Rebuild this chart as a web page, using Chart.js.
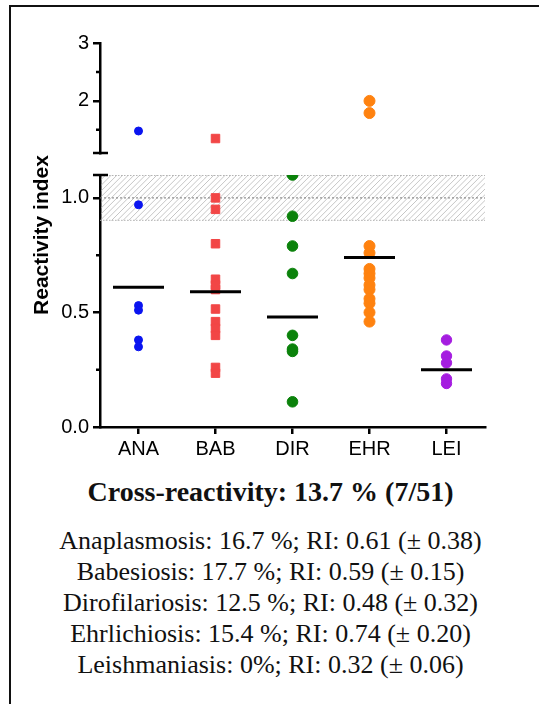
<!DOCTYPE html>
<html>
<head>
<meta charset="utf-8">
<script src="https://cdn.jsdelivr.net/npm/chart.js@4.4.1/dist/chart.umd.min.js"></script>
<style>
  html, body { margin: 0; padding: 0; background: #fff; }
  body { width: 539px; height: 704px; overflow: hidden; position: relative; }
  #frame { position: absolute; left: 9px; top: 5px; width: 620px; height: 800px;
           border-top: 2.5px solid #111; border-left: 2.5px solid #111; }
  #chartBox { position: absolute; left: 0; top: 0; width: 539px; height: 470px; }
  .txt { position: absolute; left: 0; width: 541px; text-align: center;
         font-family: "Liberation Serif", "Times New Roman", serif; color: #111; }
  #title { top: 475px; font-size: 28px; font-weight: bold; line-height: 34px; }
  #stats { top: 525px; font-size: 26px; line-height: 31px; }
</style>
</head>
<body>
<div id="frame"></div>
<div id="chartBox"><canvas id="canvas"></canvas></div>
<div id="title" class="txt"></div>
<div id="stats" class="txt"></div>
<script>
// values (reactivity index per dog)
var categories = ['ANA', 'BAB', 'DIR', 'EHR', 'LEI'];
var anaValues = [1.48, 0.97, 0.53, 0.51, 0.38, 0.35];
var babValues = [1.35, 1.00, 0.95, 0.80, 0.645, 0.62, 0.60, 0.515, 0.46, 0.43, 0.40, 0.26, 0.235];
var dirValues = [1.10, 0.92, 0.79, 0.67, 0.40, 0.34, 0.33, 0.11];
var ehrValues = [2.00, 1.79, 0.79, 0.76, 0.69, 0.67, 0.65, 0.62, 0.60, 0.56, 0.54, 0.50, 0.46];
var leiValues = [0.38, 0.31, 0.28, 0.21, 0.19];
var meanValues = [0.61, 0.59, 0.48, 0.74, 0.25];

var lowerTicks = [0, 0.5, 1.0];
var lowerMinorTicks = [0.25, 0.75];
var upperTicks = [2, 3];
var upperMinorTicks = [1.5, 2.5];
var breakValue = 1.1;
var topValue = 3;
var bandLow = 0.9, bandHigh = 1.1, cutOff = 1.0;

var titleText = 'Cross-reactivity: 13.7 % (7/51)';
var summaryLines = [
    'Anaplasmosis: 16.7 %; RI: 0.61 (\u00b1 0.38)',
    'Babesiosis: 17.7 %; RI: 0.59 (\u00b1 0.15)',
    'Dirofilariosis: 12.5 %; RI: 0.48 (\u00b1 0.32)',
    'Ehrlichiosis: 15.4 %; RI: 0.74 (\u00b1 0.20)',
    'Leishmaniasis: 0%; RI: 0.32 (\u00b1 0.06)'
];

document.getElementById('title').textContent = titleText;
document.getElementById('stats').innerHTML = summaryLines.join('<br>');

var groups = [
    { values: anaValues, color: '#0a14f0', style: 'circle', radius: 4 },
    { values: babValues, color: '#f24646', style: 'rect', radius: 6 },
    { values: dirValues, color: '#0b820b', style: 'circle', radius: 5.3 },
    { values: ehrValues, color: '#ff820f', style: 'circle', radius: 5.5 },
    { values: leiValues, color: '#a51de0', style: 'circle', radius: 5.2 }
];

var datasets = [{
    label: 'mean',
    yAxisID: 'yLow',
    data: categories.map(function (c, i) { return { x: c, y: meanValues[i] }; }),
    pointStyle: 'line',
    pointRadius: 25.5,
    pointBorderWidth: 3,
    pointBorderColor: '#000',
    pointBackgroundColor: '#000'
}];

groups.forEach(function (g, i) {
    var low = g.values.filter(function (v) { return v <= breakValue; });
    var up = g.values.filter(function (v) { return v > breakValue; });
    [['yLow', low], ['yUp', up]].forEach(function (p) {
        datasets.push({
            label: categories[i],
            yAxisID: p[0],
            data: p[1].map(function (v) { return { x: categories[i], y: v }; }),
            pointStyle: g.style,
            pointRadius: g.radius,
            pointBorderWidth: 1,
            pointBackgroundColor: g.color,
            pointBorderColor: g.color
        });
    });
});

var tickFont = { family: 'Liberation Sans', size: 20 };

function yAxis(extra) {
    var base = {
        type: 'linear',
        position: 'left',
        stack: 'ri',
        border: { display: true, color: '#000', width: 2.5 },
        grid: { display: true, drawOnChartArea: false, drawTicks: true, tickLength: 7, color: '#000', lineWidth: 2.5 },
        ticks: { color: '#000', font: tickFont, padding: 4 },
        afterFit: function (s) { s.width = 90; }
    };
    return Object.assign(base, extra);
}

var decorations = {
    id: 'decorations',
    beforeDatasetsDraw: function (chart) {
        var ctx = chart.ctx, a = chart.chartArea, low = chart.scales.yLow;
        var yTop = low.getPixelForValue(bandHigh);
        var yBot = low.getPixelForValue(bandLow);
        var yMid = low.getPixelForValue(cutOff);
        var h = yBot - yTop;

        ctx.save();
        ctx.beginPath();
        ctx.rect(a.left + 1.5, yTop, a.right - a.left - 1.5, h);
        ctx.clip();
        ctx.strokeStyle = '#c6c6c6';
        ctx.lineWidth = 1;
        ctx.beginPath();
        for (var x = a.left - h; x < a.right + h; x += 5.7) {
            ctx.moveTo(x, yBot);
            ctx.lineTo(x + h, yTop);
        }
        ctx.stroke();
        ctx.restore();

        ctx.save();
        ctx.lineWidth = 1;
        ctx.setLineDash([1.5, 1.5]);
        ctx.strokeStyle = '#b4b4b4';
        ctx.beginPath();
        ctx.moveTo(a.left, yTop + 0.5); ctx.lineTo(a.right, yTop + 0.5);
        ctx.moveTo(a.left, yBot - 0.5); ctx.lineTo(a.right, yBot - 0.5);
        ctx.stroke();
        ctx.strokeStyle = '#777';
        ctx.setLineDash([2, 2]);
        ctx.beginPath();
        ctx.moveTo(a.left, yMid); ctx.lineTo(a.right, yMid);
        ctx.stroke();
        ctx.restore();
    },
    afterDraw: function (chart) {
        var ctx = chart.ctx, a = chart.chartArea;
        var low = chart.scales.yLow, up = chart.scales.yUp;
        var ax = low.right;
        ctx.save();
        ctx.strokeStyle = '#000';
        ctx.lineWidth = 2.5;
        ctx.beginPath();
        lowerMinorTicks.forEach(function (v) {
            var y = low.getPixelForValue(v);
            ctx.moveTo(ax - 4, y); ctx.lineTo(ax, y);
        });
        upperMinorTicks.forEach(function (v) {
            var y = up.getPixelForValue(v);
            ctx.moveTo(ax - 4, y); ctx.lineTo(ax, y);
        });
        // break caps
        [low.getPixelForValue(breakValue), up.getPixelForValue(breakValue)].forEach(function (y) {
            ctx.moveTo(ax - 7, y); ctx.lineTo(ax + 8, y);
        });
        ctx.stroke();

        ctx.translate(42, (a.top + a.bottom) / 2);
        ctx.rotate(-Math.PI / 2);
        ctx.fillStyle = '#000';
        ctx.textAlign = 'center';
        ctx.textBaseline = 'middle';
        ctx.font = 'bold 21px "Liberation Sans"';
        ctx.fillText('Reactivity index', 0, 0);
        ctx.restore();
    }
};

var ctx = document.getElementById('canvas').getContext('2d');
var pChart = new Chart(ctx, {
    type: 'scatter',
    data: { datasets: datasets },
    plugins: [decorations],
    options: {
        responsive: true,
        maintainAspectRatio: false,
        animation: false,
        events: [],
        layout: { padding: { left: 10, right: 54, top: 43, bottom: 0 } },
        plugins: { legend: { display: false }, tooltip: { enabled: false } },
        scales: {
            x: {
                type: 'category',
                labels: categories,
                offset: true,
                border: { display: true, color: '#000', width: 2.5 },
                grid: { display: true, drawOnChartArea: false, drawTicks: true, tickLength: 7, offset: false, color: '#000', lineWidth: 2.5 },
                ticks: { color: '#000', font: tickFont, padding: 3, maxRotation: 0, autoSkip: false },
                afterFit: function (s) { s.height = 43; }
            },
            yUp: yAxis({
                weight: 3,
                stackWeight: 110,
                min: breakValue,
                max: topValue,
                afterBuildTicks: function (s) { s.ticks = upperTicks.map(function (v) { return { value: v }; }); },
                ticks: { color: '#000', font: tickFont, padding: 4, callback: function (v) { return String(v); } }
            }),
            yGap: {
                type: 'linear',
                position: 'left',
                stack: 'ri',
                weight: 2,
                stackWeight: 22,
                min: 0,
                max: 1,
                border: { display: false },
                grid: { display: false },
                ticks: { display: false }
            },
            yLow: yAxis({
                weight: 1,
                stackWeight: 252,
                min: 0,
                max: breakValue,
                afterBuildTicks: function (s) { s.ticks = lowerTicks.map(function (v) { return { value: v }; }); },
                ticks: { color: '#000', font: tickFont, padding: 4, callback: function (v) { return v.toFixed(1); } }
            })
        }
    }
});
</script>
</body>
</html>
